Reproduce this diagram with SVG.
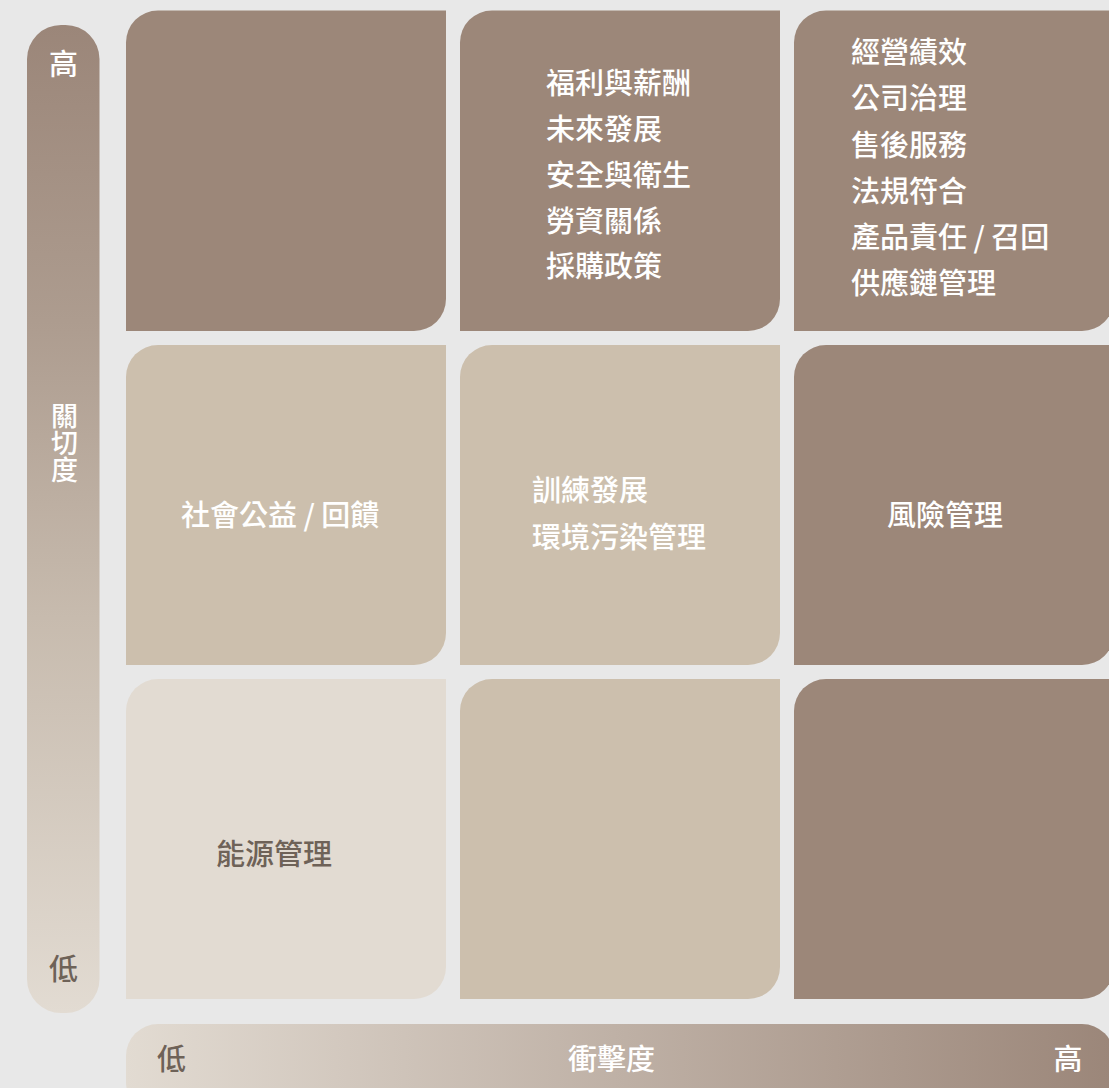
<svg xmlns="http://www.w3.org/2000/svg" width="1109" height="1088" viewBox="0 0 1109 1088">
  <defs>
    <linearGradient id="gv" x1="0" y1="0" x2="0" y2="1">
      <stop offset="0" stop-color="#9b8679"/>
      <stop offset="0.3" stop-color="#ad9c8f"/>
      <stop offset="0.6" stop-color="#c7bbae"/>
      <stop offset="1" stop-color="#e2dbd2"/>
    </linearGradient>
    <linearGradient id="gh" x1="0" y1="0" x2="1" y2="0">
      <stop offset="0" stop-color="#e2dbd2"/>
      <stop offset="1" stop-color="#9b8679"/>
    </linearGradient>
    <style>
      .dark { fill: #9c8779; }
      .mid { fill: #ccbfad; }
      .light { fill: #e2dbd2; }
      text { font-family: "Noto Sans CJK TC", "Noto Sans CJK SC", sans-serif; font-size: 29px; font-weight: 500; }
      .w { fill: #ffffff; }
      .g { fill: #6e6258; }
      .c { text-anchor: middle; }
      .v { font-size: 27px; writing-mode: vertical-rl; text-orientation: upright; }
    </style>
  </defs>
  <rect x="0" y="0" width="1109" height="1088" fill="#e8e8e8"/>

  <g id="axis-y">
    <rect x="27" y="25" width="72.5" height="988" rx="34" ry="34" fill="url(#gv)"/>
    <text class="w c" x="63.5" y="75">高</text>
    <text class="w v" x="64.5" y="402">關切度</text>
    <text class="g c" x="63.5" y="980">低</text>
  </g>

  <g id="axis-x">
    <rect x="126" y="1024" width="988" height="90" rx="32" ry="32" fill="url(#gh)"/>
    <text class="g c" x="171.5" y="1070">低</text>
    <text class="w c" x="611.5" y="1070">衝擊度</text>
    <text class="w c" x="1068" y="1070">高</text>
  </g>

  <g id="cell-r1c1">
    <path class="dark" d="M126,42.5 A32,32 0 0 1 158,10.5 H446 V299 A32,32 0 0 1 414,331 H126 Z"/>
  </g>

  <g id="cell-r1c2">
    <path class="dark" d="M460,42.5 A32,32 0 0 1 492,10.5 H780 V299 A32,32 0 0 1 748,331 H460 Z"/>
    <text class="w" x="546" y="94">福利與薪酬</text>
    <text class="w" x="546" y="140">未來發展</text>
    <text class="w" x="546" y="186">安全與衛生</text>
    <text class="w" x="546" y="231.5">勞資關係</text>
    <text class="w" x="546" y="277">採購政策</text>
  </g>

  <g id="cell-r1c3">
    <path class="dark" d="M794,42.5 A32,32 0 0 1 826,10.5 H1114 V299 A32,32 0 0 1 1082,331 H794 Z"/>
    <text class="w" x="851" y="63">經營績效</text>
    <text class="w" x="851" y="109">公司治理</text>
    <text class="w" x="851" y="155.5">售後服務</text>
    <text class="w" x="851" y="201.5">法規符合</text>
    <text class="w" x="851" y="248">產品責任 / 召回</text>
    <text class="w" x="851" y="294">供應鏈管理</text>
  </g>

  <g id="cell-r2c1">
    <path class="mid" d="M126,377 A32,32 0 0 1 158,345 H446 V633 A32,32 0 0 1 414,665 H126 Z"/>
    <text class="w" x="181" y="526">社會公益 / 回饋</text>
  </g>

  <g id="cell-r2c2">
    <path class="mid" d="M460,377 A32,32 0 0 1 492,345 H780 V633 A32,32 0 0 1 748,665 H460 Z"/>
    <text class="w" x="532" y="501">訓練發展</text>
    <text class="w" x="532" y="548">環境污染管理</text>
  </g>

  <g id="cell-r2c3">
    <path class="dark" d="M794,377 A32,32 0 0 1 826,345 H1114 V633 A32,32 0 0 1 1082,665 H794 Z"/>
    <text class="w" x="887" y="526">風險管理</text>
  </g>

  <g id="cell-r3c1">
    <path class="light" d="M126,711 A32,32 0 0 1 158,679 H446 V967 A32,32 0 0 1 414,999 H126 Z"/>
    <text class="g" x="216" y="865">能源管理</text>
  </g>

  <g id="cell-r3c2">
    <path class="mid" d="M460,711 A32,32 0 0 1 492,679 H780 V967 A32,32 0 0 1 748,999 H460 Z"/>
  </g>

  <g id="cell-r3c3">
    <path class="dark" d="M794,711 A32,32 0 0 1 826,679 H1114 V967 A32,32 0 0 1 1082,999 H794 Z"/>
  </g>

  <g id="connectors"/>
</svg>
